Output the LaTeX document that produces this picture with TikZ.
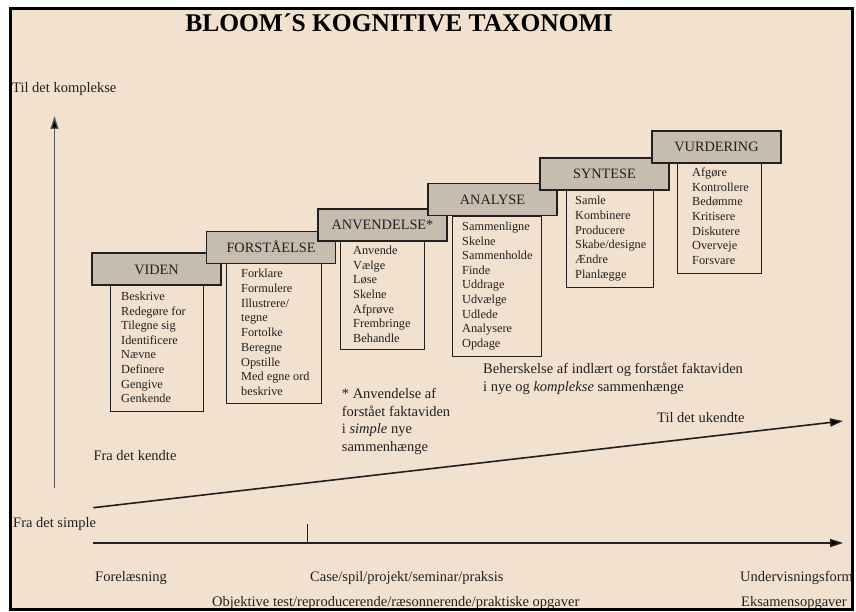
\documentclass[tikz,border=0pt]{standalone}
\usepackage{fontspec}
\setmainfont{Liberation Serif}
\usetikzlibrary{arrows.meta}
\definecolor{bg}{RGB}{242,225,206}
\definecolor{hdrfill}{RGB}{198,188,176}
\definecolor{ink}{RGB}{32,32,32}
\begin{document}
\begin{tikzpicture}[x=1pt,y=-1pt,
  hdr/.style={draw=ink, line width=1.4pt, fill=hdrfill, minimum width=129pt, minimum height=32pt,
    inner sep=0pt, text height=10pt, text depth=0pt, font=\fontsize{14.3}{16}\selectfont, text=ink},
  lbox/.style={draw=ink, line width=1.3pt, fill=bg, anchor=north west, inner sep=0pt},
  item/.style={anchor=base west, inner sep=0pt, font=\fontsize{12.3}{14}\selectfont, text=ink},
  note/.style={anchor=base west, inner sep=0pt, font=\fontsize{14.5}{17.5}\selectfont, text=ink},
  arr/.style={-{Triangle[length=13pt,width=8pt,fill=black]}, line width=1.6pt, draw=ink}]
\fill[white] (0,0) rectangle (856,612);
\useasboundingbox (0,0) rectangle (856,612);
\fill[bg] (10.5,8.5) rectangle (852.5,609.5);

% title
\node[anchor=base, inner sep=0pt, font=\fontsize{25.5}{30}\selectfont\bfseries] (title) at (399,31.7) {BLOOM´S KOGNITIVE TAXONOMI};

% level 1: VIDEN
\node[lbox, minimum width=93pt, minimum height=126pt] (l1) at (110,285) {};
\node[hdr] (h1) at (156.5,269) {VIDEN};
\foreach \t [count=\i] in {Beskrive, Redegøre for, Tilegne sig, Identificere, Nævne, Definere, Gengive, Genkende}
  \node[item] (a\i) at ({121},{300.5+14.6*(\i-1)}) {\t};

% level 2: FORSTÅELSE
\node[lbox, minimum width=95pt, minimum height=140pt] (l2) at (226,263) {};
\node[hdr] (h2) at (271,247.5) {FORSTÅELSE};
\foreach \t [count=\i] in {Forklare, Formulere, Illustrere/, tegne, Fortolke, Beregne, Opstille, Med egne ord, beskrive}
  \node[item] (b\i) at ({241},{277.5+14.75*(\i-1)}) {\t};

% level 3: ANVENDELSE
\node[lbox, minimum width=84pt, minimum height=108pt] (l3) at (340,241) {};
\node[hdr] (h3) at (382.5,225) {ANVENDELSE*};
\foreach \t [count=\i] in {Anvende, Vælge, Løse, Skelne, Afprøve, Frembringe, Behandle}
  \node[item] (c\i) at ({353},{254.5+14.67*(\i-1)}) {\t};

% level 4: ANALYSE
\node[lbox, minimum width=89pt, minimum height=140pt] (l4) at (452,216) {};
\node[hdr] (h4) at (492.5,199.5) {ANALYSE};
\foreach \t [count=\i] in {Sammenligne, Skelne, Sammenholde, Finde, Uddrage, Udvælge, Udlede, Analysere, Opdage}
  \node[item] (d\i) at ({462},{230.5+14.6*(\i-1)}) {\t};

% level 5: SYNTESE
\node[lbox, minimum width=87pt, minimum height=97pt] (l5) at (566,190) {};
\node[hdr] (h5) at (604.5,174) {SYNTESE};
\foreach \t [count=\i] in {Samle, Kombinere, Producere, Skabe/designe, Ændre, Planlægge}
  \node[item] (e\i) at ({575},{204.5+14.8*(\i-1)}) {\t};

% level 6: VURDERING
\node[lbox, minimum width=84pt, minimum height=110pt] (l6) at (677,163) {};
\node[hdr] (h6) at (716.5,147) {VURDERING};
\foreach \t [count=\i] in {Afgøre, Kontrollere, Bedømme, Kritisere, Diskutere, Overveje, Forsvare}
  \node[item] (f\i) at ({692},{176.5+14.67*(\i-1)}) {\t};

% annotations
\node[note] (komplekse) at (12,92.5) {Til det komplekse};
\node[note] (kendte) at (93.3,460.5) {Fra det kendte};
\node[note] (simple) at (13,527.5) {Fra det simple};
\node[note] (ukendte) at (657,422.5) {Til det ukendte};
\node[note] (n1) at (341.7,398.5) {* Anvendelse af};
\node[note] (n2) at (341.7,416) {forstået faktaviden};
\node[note] (n3) at (341.7,433.5) {i \textit{simple} nye};
\node[note] (n4) at (341.7,451) {sammenhænge};
\node[note] (m1) at (483,373.5) {Beherskelse af indlært og forstået faktaviden};
\node[note] (m2) at (483,391.5) {i nye og \textit{komplekse} sammenhænge};
\node[note] (forel) at (95,581.5) {Forelæsning};
\node[note] (case) at (310,581.5) {Case/spil/projekt/seminar/praksis};
\node[note] (underv) at (740,581.5) {Undervisningsform};
\node[note] (objekt) at (212,606.5) {Objektive test/reproducerende/ræsonnerende/praktiske opgaver};
\node[note] (eksamen) at (741,606.5) {Eksamensopgaver};

% arrows
\coordinate (vbot) at (54.5,488);
\coordinate (vtop) at (54.5,116);
\coordinate (dstart) at (93.3,507.7);
\coordinate (dend) at (843,421);
\coordinate (hstart) at (93.3,543);
\coordinate (hend) at (843,543);
\coordinate (tickt) at (307.5,524);
\coordinate (tickb) at (307.5,543);
\draw[arr, line width=1.3pt, draw=ink!75] (vbot) -- (vtop);
\draw[arr] (dstart) -- (dend);
\draw[arr] (hstart) -- (hend);
\draw[line width=1.3pt, draw=ink] (tickt) -- (tickb);

% frame
\draw[line width=3pt] (10.5,8.5) rectangle (852.5,609.5);
\end{tikzpicture}
\end{document}
